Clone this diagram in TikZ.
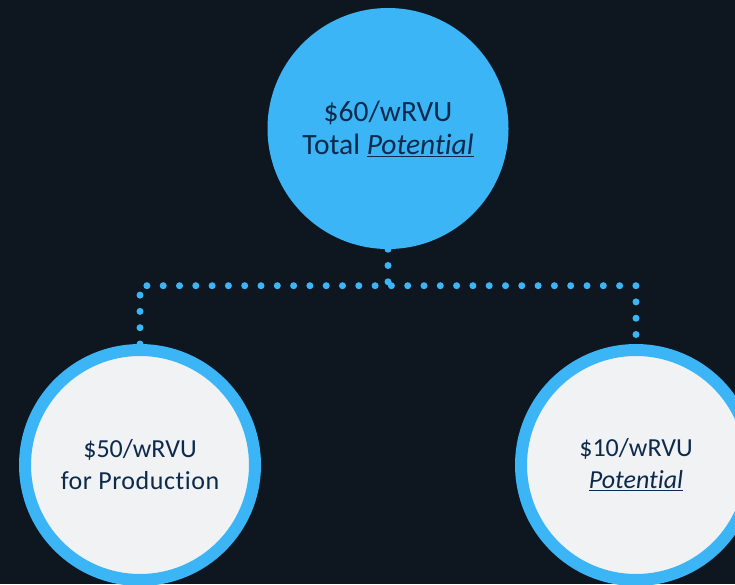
\documentclass[tikz,border=0pt]{standalone}
\usepackage{fontspec}
\setmainfont{Carlito}[Ligatures=NoCommon]
\definecolor{bgdark}{HTML}{0E1720}
\definecolor{skyblue}{HTML}{3BB5F6}
\definecolor{paleface}{HTML}{F1F2F4}
\definecolor{navytext}{HTML}{0D2A4C}
\tikzset{
  bigdisc/.style={circle, fill=skyblue, minimum size=241pt, inner sep=0pt},
  ringdisc/.style={circle, fill=paleface, draw=skyblue, line width=12pt,
    minimum size=230pt, inner sep=0pt},
  toplabel/.style={text=navytext, align=center, font=\fontsize{29.5}{32.5}\selectfont},
  sublabel/.style={text=navytext, align=center, font=\fontsize{26}{32}\selectfont},
  dotline/.style={draw=skyblue, line width=7pt, line cap=round,
    dash pattern=on 0pt off 16.3pt}
}
\newcommand{\potword}{\underline{\textit{Potential}}}
\begin{document}
\begin{tikzpicture}[x=1pt, y=-1pt]
  \fill[bgdark] (0,0) rectangle (735,584);
  \useasboundingbox (0,0) rectangle (735,584);

  \node[bigdisc] (total) at (388,128.5) {};
  \node[toplabel] (totaltext) at (388,129) {\$60/wRVU\\Total \potword};

  \node[ringdisc] (prod) at (140,465) {};
  \node[sublabel] (prodtext) at (140,465)
    {\$50/wRVU\\{\addfontfeature{LetterSpace=2}for Production}};

  \node[ringdisc] (pot) at (636,465) {};
  \node[sublabel] (pottext) at (636,465) {\$10/wRVU\\\potword};

  \coordinate (bus) at (388,285.7);

  % connectors
  \path[dotline] (total.south) -- (bus);
  \path[dotline] (prod.north) |- (bus) -| (pot.north);
\end{tikzpicture}
\end{document}
